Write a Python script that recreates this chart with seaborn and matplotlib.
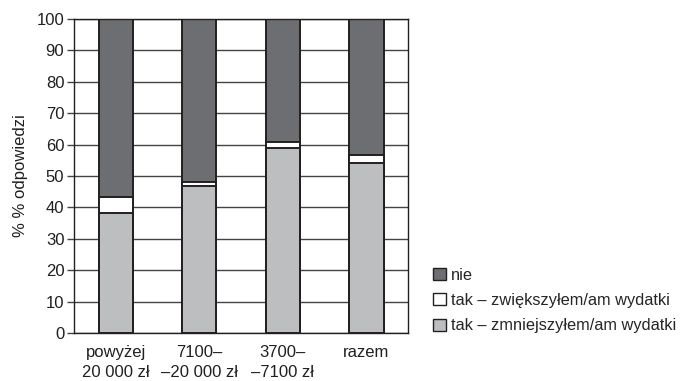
import matplotlib
matplotlib.use("Agg")
import matplotlib.pyplot as plt
import pandas as pd
import seaborn as sns
from matplotlib.patches import Patch

# data
categories = ["powyżej\n20 000 zł", "7100–\n–20 000 zł", "3700–\n–7100 zł", "razem"]
zmniejszylem = [38.2, 46.7, 58.8, 54.3]
zwiekszylem = [5.2, 1.3, 2.0, 2.4]
nie = [56.6, 52.0, 39.2, 43.3]

labels = ["nie", "tak – zwiększyłem/am wydatki", "tak – zmniejszyłem/am wydatki"]
colors = ["#6d6e71", "#ffffff", "#bcbec0"]

df = pd.DataFrame({"kat": categories, "zmn": zmniejszylem, "zw": zwiekszylem, "nie": nie})
df["top"] = df["zmn"] + df["zw"] + df["nie"]
df["mid"] = df["zmn"] + df["zw"]

sns.set_style("white")
plt.rcParams["font.family"] = ["Liberation Sans", "DejaVu Sans"]
fs = 12

fig = plt.figure(figsize=(6.86, 3.81), dpi=100)
ax = fig.add_axes([0.108, 0.126, 0.487, 0.824])

# stacked bars: draw cumulative heights from the top layer down
for col, c in zip(["top", "mid", "zmn"], colors):
    sns.barplot(data=df, x="kat", y=col, color=c, width=0.41,
                edgecolor="#231f20", linewidth=1.4, saturation=1, ax=ax)

ax.set_ylim(0, 100)
ax.set_xlim(-0.5, 3.5)
ax.set_yticks(range(0, 101, 10))
ax.yaxis.grid(True, color="#444444", linewidth=1)
ax.set_axisbelow(True)
ax.tick_params(axis="y", left=True, length=5, width=1, color="#444444",
               labelsize=fs, pad=2, labelcolor="#231f20")
ax.tick_params(axis="x", bottom=False, labelsize=fs, pad=5, labelcolor="#231f20")
ax.set_xticks(range(len(categories)))
ax.set_xticklabels(categories, linespacing=1.45)
for s in ax.spines.values():
    s.set_color("#231f20")
    s.set_linewidth(1)
ax.set_xlabel("")
ax.set_ylabel("% % odpowiedzi", fontsize=fs, color="#231f20", labelpad=6)

handles = [Patch(facecolor=c, edgecolor="#231f20", linewidth=1) for c in colors]
fig.legend(handles, labels, loc="lower left", bbox_to_anchor=(0.622, 0.108),
           frameon=False, fontsize=11.8, handlelength=0.75, handleheight=0.75,
           handletextpad=0.35, labelspacing=0.62, borderaxespad=0)

fig.savefig("out.png", dpi=100)
